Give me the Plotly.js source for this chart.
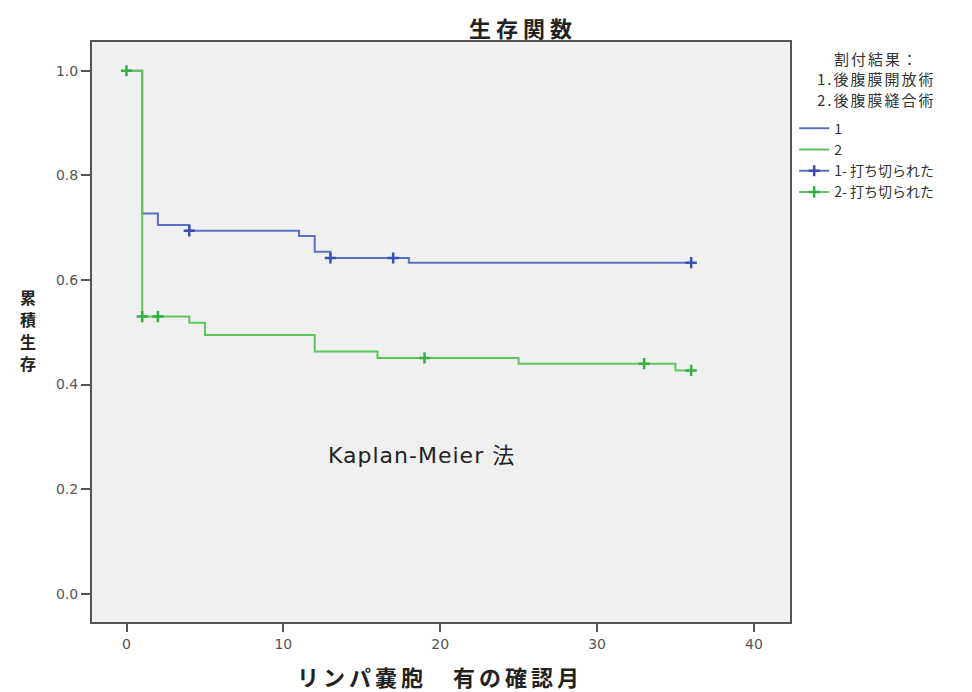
<!DOCTYPE html>
<html>
<head>
<meta charset="utf-8">
<script src="https://cdn.plot.ly/plotly-3.0.1.min.js"></script>
<style>
html,body{margin:0;padding:0;background:#fff;}
#chart{width:972px;height:692px;}
.annotation[data-index="0"] text{letter-spacing:5px;}
.annotation[data-index="1"] text{letter-spacing:4px;}
.annotation[data-index="7"] text, .annotation[data-index="8"] text, .annotation[data-index="9"] text{letter-spacing:2px;}
.annotation[data-index="6"] text{letter-spacing:1px;}
</style>
</head>
<body>
<div id="chart"></div>
<script>
// Group 1 (後腹膜開放術) Kaplan-Meier steps
const g1Time = [0, 1, 2, 4, 11, 12, 13, 18, 36];
const g1Surv = [1.0, 0.727, 0.705, 0.694, 0.684, 0.654, 0.642, 0.633, 0.633];
const g1CensTime = [4, 13, 17, 36];
const g1CensSurv = [0.694, 0.642, 0.642, 0.633];
// Group 2 (後腹膜縫合術)
const g2Time = [0, 1, 4, 5, 12, 16, 25, 35, 36];
const g2Surv = [1.0, 0.530, 0.518, 0.495, 0.463, 0.451, 0.440, 0.427, 0.427];
const g2CensTime = [0, 1, 2, 19, 33, 36];
const g2CensSurv = [1.0, 0.530, 0.530, 0.451, 0.440, 0.427];

const xTicks = [0, 10, 20, 30, 40];
const yTicks = [0.0, 0.2, 0.4, 0.6, 0.8, 1.0];
const yTickText = ['0.0', '0.2', '0.4', '0.6', '0.8', '1.0'];
const yTitleChars = ['累', '積', '生', '存'];
const legendTitleLines = ['割付結果：', '1.後腹膜開放術', '2.後腹膜縫合術'];

const blueLine = '#5b6fc4', blueMark = '#3a4fb2';
const greenLine = '#5fc55f', greenMark = '#33b044';

// interleave with nulls so censor markers are not connected, but legend shows line+marker
function sep(arr) { const o = []; arr.forEach((v, i) => { if (i) o.push(null); o.push(v); }); return o; }

const CJK = '"Noto Sans CJK JP", "Noto Sans", sans-serif';
const LAT = '"DejaVu Sans", "Noto Sans CJK JP", sans-serif';

const traces = [
  {x: g1Time, y: g1Surv, type: 'scatter', mode: 'lines', line: {shape: 'hv', color: blueLine, width: 2}, name: '1'},
  {x: g2Time, y: g2Surv, type: 'scatter', mode: 'lines', line: {shape: 'hv', color: greenLine, width: 2}, name: '2'},
  {x: sep(g1CensTime), y: sep(g1CensSurv), type: 'scatter', mode: 'lines+markers', connectgaps: false,
   line: {color: blueLine, width: 2}, marker: {symbol: 'cross-thin', size: 8, line: {color: blueMark, width: 2.5}, color: blueMark},
   name: '1- 打ち切られた'},
  {x: sep(g2CensTime), y: sep(g2CensSurv), type: 'scatter', mode: 'lines+markers', connectgaps: false,
   line: {color: greenLine, width: 2}, marker: {symbol: 'cross-thin', size: 8, line: {color: greenMark, width: 2.5}, color: greenMark},
   name: '2- 打ち切られた'}
];

const annotations = [
  {text: '<b>生存関数</b>', xref: 'paper', yref: 'paper', x: 0.617, y: 1.026, showarrow: false,
   xanchor: 'center', yanchor: 'middle', font: {family: CJK, size: 22, color: '#222'}},
  {text: '<b>リンパ嚢胞　有の確認月</b>', xref: 'paper', yref: 'paper', x: 0.4986, y: -0.093, showarrow: false,
   xanchor: 'center', yanchor: 'middle', font: {family: CJK, size: 22, color: '#222'}}
];
yTitleChars.forEach((c, i) => annotations.push({
  text: '<b>' + c + '</b>', xref: 'paper', yref: 'paper', x: -0.0917, y: (622 - (297 + i * 22)) / 580, showarrow: false,
  xanchor: 'center', yanchor: 'middle', borderpad: 0, font: {family: CJK, size: 16, color: '#222'}}));
annotations.push({text: 'Kaplan-Meier 法', xref: 'x', yref: 'y', x: 18.8, y: 0.264, showarrow: false,
  xanchor: 'center', yanchor: 'middle', font: {family: LAT, size: 22, color: '#222'}});
legendTitleLines.forEach((t, i) => annotations.push({
  text: t, xref: 'paper', yref: 'paper', x: 1.1246, y: (622 - (58 + i * 21)) / 580, showarrow: false,
  xanchor: 'center', yanchor: 'middle', borderpad: 0, font: {family: CJK, size: 15, color: '#333'}}));

const layout = {
  width: 972, height: 692,
  margin: {l: 92, r: 182, t: 42, b: 70},
  paper_bgcolor: '#ffffff', plot_bgcolor: '#f0f0f0',
  font: {family: LAT, color: '#444', size: 13},
  xaxis: {range: [-2.2, 42.3], tickvals: xTicks, ticktext: xTicks.map(String), showgrid: false, zeroline: false,
          showline: true, mirror: true, linecolor: '#555', linewidth: 2, ticks: 'outside', ticklen: 8, tickwidth: 2, tickcolor: '#555',
          tickfont: {family: LAT, size: 14, color: '#555'}},
  yaxis: {range: [-0.054, 1.055], tickvals: yTicks, ticktext: yTickText, showgrid: false, zeroline: false,
          showline: true, mirror: true, linecolor: '#555', linewidth: 2, ticks: 'outside', ticklen: 9, tickwidth: 2, tickcolor: '#555',
          tickfont: {family: LAT, size: 14, color: '#555'}},
  showlegend: true,
  legend: {x: 1.006, y: 0.878, xanchor: 'left', yanchor: 'top', bgcolor: 'rgba(0,0,0,0)', tracegroupgap: 0,
           font: {family: CJK, size: 14, color: '#333'}, itemwidth: 30},
  annotations: annotations
};

Plotly.newPlot('chart', traces, layout, {displayModeBar: false, staticPlot: true});
</script>
</body>
</html>
